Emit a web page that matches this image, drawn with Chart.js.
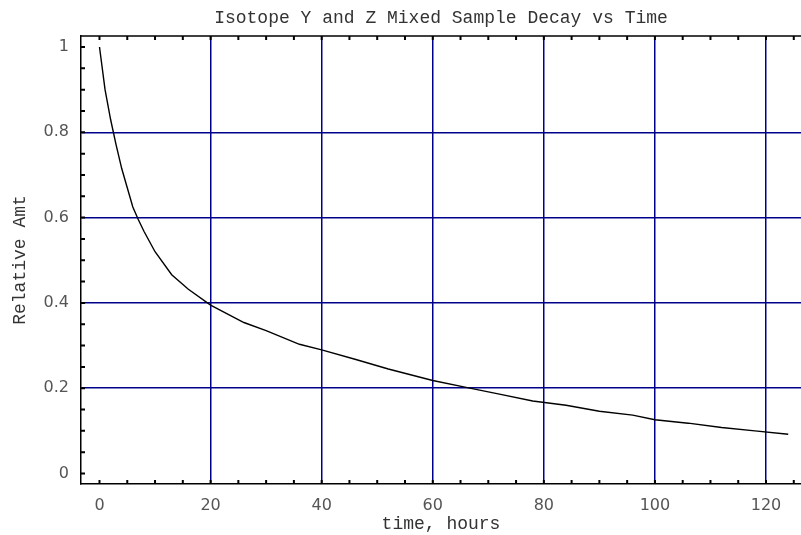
<!DOCTYPE html>
<html>
<head>
  <meta charset="utf-8" />
  <title>Isotope Y and Z Mixed Sample Decay vs Time</title>
  <script src="https://cdn.jsdelivr.net/npm/chart.js"></script>
  <style>
    html, body { margin: 0; padding: 0; background: #fff; }
    #wrap { width: 801px; height: 535px; }
  </style>
</head>
<body>
  <div id="wrap"><canvas id="chart" width="801" height="535"></canvas></div>
  <script>
    // sampled off the reference curve (hours, relative amount)
    var hours = [0, 1, 2, 3, 4, 5, 6, 7, 8, 10, 13, 16, 20, 26, 30, 36, 40, 46, 52, 60, 66, 72, 78, 84, 90, 96, 100, 106, 112, 118, 124];
    var relAmt = [1.0, 0.90, 0.83, 0.77, 0.715, 0.67, 0.625, 0.595, 0.568, 0.52, 0.466, 0.432, 0.395, 0.354, 0.335, 0.303, 0.29, 0.268, 0.245, 0.218, 0.202, 0.186, 0.17, 0.16, 0.146, 0.137, 0.126, 0.118, 0.108, 0.1, 0.092];

    var xTicks = [0, 20, 40, 60, 80, 100, 120];
    var yTicks = [0, 0.2, 0.4, 0.6, 0.8, 1];

    var gridBlue = '#00008b';
    var labelGrey = '#555';

    function hideEdge(ctx) {
      if (ctx.tick && (ctx.tick.value === 0 || ctx.tick.value === 1)) return 'rgba(0,0,0,0)';
      return gridBlue;
    }

    // frame on top + little inward ticks like the original
    var framePlugin = {
      id: 'frame',
      afterDatasetsDraw: function(chart) {
        var ctx = chart.ctx, a = chart.chartArea;
        var xs = chart.scales.x, ys = chart.scales.y;
        ctx.save();
        ctx.strokeStyle = '#000';
        ctx.lineWidth = 1.5;
        ctx.beginPath();
        ctx.moveTo(a.left, a.top);
        ctx.lineTo(a.right, a.top);
        ctx.stroke();
        ctx.lineWidth = 2;
        ctx.beginPath();
        for (var t = 0; t <= 125; t += 5) {
          var px = xs.getPixelForValue(t);
          ctx.moveTo(px, a.bottom); ctx.lineTo(px, a.bottom - 4);
          ctx.moveTo(px, a.top); ctx.lineTo(px, a.top + 4);
        }
        for (var k = 0; k <= 20; k++) {
          var py = ys.getPixelForValue(k * 0.05);
          ctx.moveTo(a.left, py); ctx.lineTo(a.left + 4, py);
        }
        ctx.stroke();
        ctx.restore();
      }
    };

    new Chart(document.getElementById('chart'), {
      type: 'line',
      data: {
        datasets: [{
          data: hours.map(function(h, i) { return { x: h, y: relAmt[i] }; }),
          borderColor: '#000',
          borderWidth: 1.4,
          pointRadius: 0,
          fill: false,
          tension: 0
        }]
      },
      options: {
        responsive: false,
        animation: false,
        layout: { padding: 0 },
        plugins: {
          legend: { display: false },
          tooltip: { enabled: false },
          title: {
            display: true,
            text: 'Isotope Y and Z Mixed Sample Decay vs Time',
            fullSize: false,
            color: '#333',
            font: { family: 'Liberation Mono', size: 18, weight: 'normal' },
            padding: { top: 7, bottom: 7.4 }
          }
        },
        scales: {
          x: {
            type: 'linear',
            min: -3.33,
            max: 126.3,
            afterBuildTicks: function(s) { s.ticks = xTicks.map(function(v) { return { value: v }; }); },
            afterFit: function(s) { s.height = 51; },
            grid: { color: hideEdge, lineWidth: 1.5, drawTicks: false },
            border: { color: '#000', width: 1.5 },
            ticks: { color: labelGrey, font: { family: 'DejaVu Sans', size: 16 }, padding: 12, maxRotation: 0 },
            title: {
              display: true,
              text: 'time, hours',
              color: '#333',
              font: { family: 'Liberation Mono', size: 18 },
              padding: { top: 0, bottom: 0 }
            }
          },
          y: {
            type: 'linear',
            min: -0.0246,
            max: 1.0258,
            afterBuildTicks: function(s) { s.ticks = yTicks.map(function(v) { return { value: v }; }); },
            afterFit: function(s) { s.width = 81; },
            grid: { color: hideEdge, lineWidth: 1.5, drawTicks: false },
            border: { color: '#000', width: 1.5 },
            ticks: {
              color: labelGrey,
              font: { family: 'DejaVu Sans', size: 16 },
              padding: 12,
              callback: function(v) { return String(v); }
            },
            title: {
              display: true,
              text: 'Relative Amt',
              color: '#333',
              font: { family: 'Liberation Mono', size: 18 },
              padding: { top: 9, bottom: 0 }
            }
          }
        }
      },
      plugins: [framePlugin]
    });
  </script>
</body>
</html>
